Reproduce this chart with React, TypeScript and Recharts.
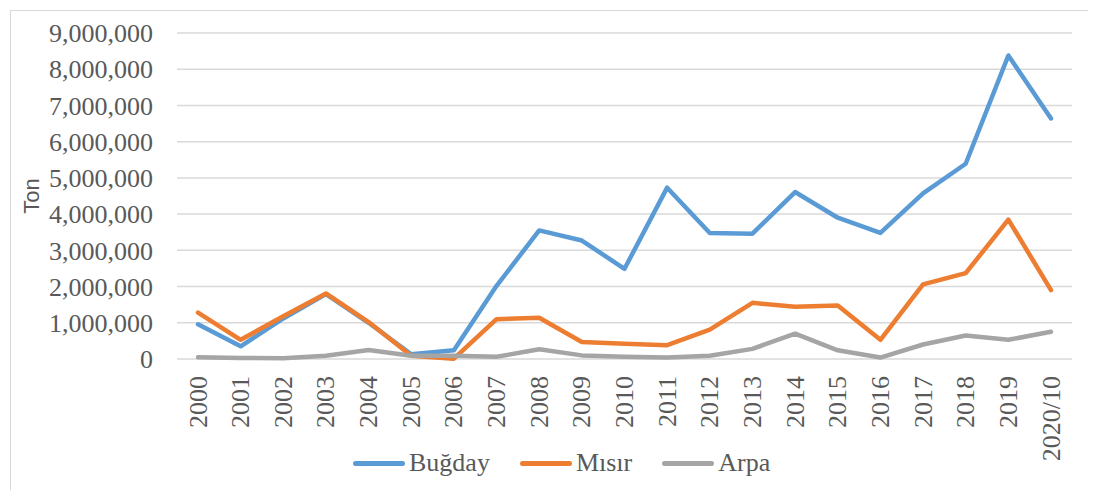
import React from "react";
import { LineChart, Line, XAxis, YAxis, CartesianGrid, Legend } from "recharts";

const years = [
  "2000", "2001", "2002", "2003", "2004", "2005", "2006", "2007", "2008", "2009", "2010",
  "2011", "2012", "2013", "2014", "2015", "2016", "2017", "2018", "2019", "2020/10",
];
const bugday = [
  960000, 350000, 1120000, 1790000, 1000000, 130000, 240000, 2020000, 3550000, 3270000, 2490000,
  4730000, 3480000, 3460000, 4610000, 3900000, 3480000, 4570000, 5390000, 8380000, 6640000,
];
const misir = [
  1280000, 530000, 1180000, 1810000, 1020000, 90000, 10000, 1100000, 1140000, 470000, 420000,
  380000, 810000, 1550000, 1440000, 1480000, 530000, 2060000, 2370000, 3850000, 1900000,
];
const arpa = [
  50000, 30000, 20000, 90000, 250000, 90000, 90000, 60000, 270000, 100000, 60000,
  40000, 90000, 280000, 700000, 240000, 40000, 400000, 650000, 530000, 750000,
];
const yTicks = [0, 1000000, 2000000, 3000000, 4000000, 5000000, 6000000, 7000000, 8000000, 9000000];

const series = [
  { key: "bugday", name: "Buğday", color: "#5B9BD5" },
  { key: "misir", name: "Mısır", color: "#ED7D31" },
  { key: "arpa", name: "Arpa", color: "#A5A5A5" },
];

const data = years.map((y, i) => ({ year: y, bugday: bugday[i], misir: misir[i], arpa: arpa[i] }));

const serif = "'Liberation Serif', 'Times New Roman', serif";
const textColor = "#595959";

function XTick({ x, y, payload }: any) {
  return (
    <text
      x={x}
      y={y}
      transform={`rotate(-90, ${x}, ${y})`}
      textAnchor="end"
      dominantBaseline="central"
      fontFamily={serif}
      fontSize={26}
      fill={textColor}
    >
      {payload.value}
    </text>
  );
}

function LegendContent() {
  return (
    <div style={{ display: "flex", alignItems: "center", paddingLeft: 353, fontFamily: serif, fontSize: 26, color: textColor }}>
      {series.map((s) => (
        <div key={s.key} style={{ display: "flex", alignItems: "center", marginRight: 30 }}>
          <div style={{ width: 52, height: 5, borderRadius: 3, background: s.color, marginRight: 4 }} />
          <span>{s.name}</span>
        </div>
      ))}
    </div>
  );
}

export default function App() {
  return (
    <div style={{ position: "relative", width: 1096, height: 498, margin: -8, background: "#fff" }}>
      <div
        style={{
          position: "absolute",
          left: 10,
          top: 10,
          right: 0,
          bottom: 0,
          borderTop: "1.5px solid #d9d9d9",
          borderLeft: "1.5px solid #d9d9d9",
        }}
      />
      <LineChart
        width={1096}
        height={498}
        data={data}
        margin={{ top: 33, right: 24, left: 0, bottom: 39 }}
        style={{ position: "absolute", left: 0, top: 0 }}
      >
        <CartesianGrid vertical={false} stroke="#d9d9d9" strokeWidth={1.5} />
        <XAxis
          dataKey="year"
          axisLine={false}
          tickLine={false}
          interval={0}
          height={100}
          tickMargin={11}
          padding={{ left: 21, right: 21 }}
          tick={<XTick />}
        />
        <YAxis
          width={177}
          domain={[0, 9000000]}
          ticks={yTicks}
          axisLine={false}
          tickLine={false}
          tickMargin={18}
          tickFormatter={(v: number) => v.toLocaleString("en-US")}
          tick={{ fontFamily: serif, fontSize: 26, fill: textColor }}
          label={{
            value: "Ton",
            angle: -90,
            position: "insideLeft",
            offset: 31,
            style: { fontFamily: "'Liberation Sans', Arial, sans-serif", fontSize: 22, fill: textColor, textAnchor: "middle" },
          }}
        />
        <Legend
          verticalAlign="middle"
          align="center"
          content={<LegendContent />}
          wrapperStyle={{ top: 448, left: 0, width: 1096 }}
        />
        {series.map((s) => (
          <Line
            key={s.key}
            dataKey={s.key}
            name={s.name}
            stroke={s.color}
            strokeWidth={4.5}
            strokeLinecap="round"
            strokeLinejoin="round"
            dot={false}
            activeDot={false}
            type="linear"
            isAnimationActive={false}
          />
        ))}
      </LineChart>
    </div>
  );
}
